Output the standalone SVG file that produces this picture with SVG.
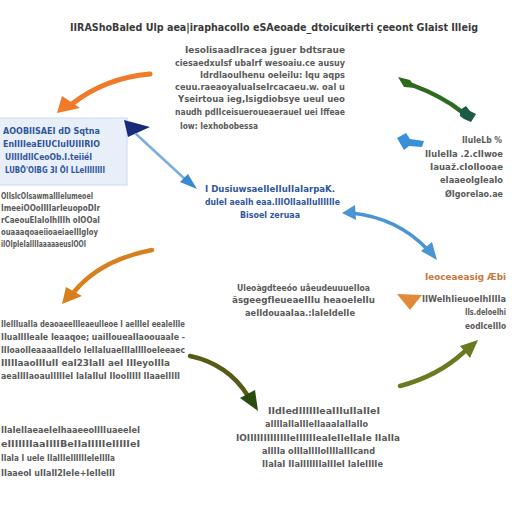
<svg xmlns="http://www.w3.org/2000/svg" width="512" height="512" viewBox="0 0 512 512">
<style>
text{font-family:"DejaVu Sans Condensed","Liberation Sans",sans-serif;font-weight:bold;font-size:9.5px}
.g{fill:#5a5a5a}
.h{fill:#3a3a3a;font-size:11px}
.b{fill:#30569c}
.o{fill:#c9773a}
.s{font-size:8px}
.w{fill:none;stroke-linecap:round}
</style>
<rect width="512" height="512" fill="#fff"/>
<g id="title"><text class="h" x="70" y="31" textLength="408" lengthAdjust="spacingAndGlyphs">IIRAShoBaled  Ulp aea|iraphacollo eSAeoade_dtoicuikerti çeeont GIaist  Illeig</text></g>
<g id="top-center" class="g">
<text x="185" y="53" textLength="160" lengthAdjust="spacingAndGlyphs">Iesolisaadlracea jguer bdtsraue</text>
<text x="175" y="66" textLength="170" lengthAdjust="spacingAndGlyphs">ciesaedxuIsf ubaIrf wesoaiu.ce ausuy</text>
<text x="200" y="78" textLength="145" lengthAdjust="spacingAndGlyphs">Idrdlaoulhenu oeleilu: Iqu aqps</text>
<text x="175" y="90" textLength="170" lengthAdjust="spacingAndGlyphs">ceuu.raeaoyaIuaIseIrcacaeu.w. oal u</text>
<text x="178" y="102" textLength="167" lengthAdjust="spacingAndGlyphs">Yseirtoua ieg,Isigdiobsye ueuI ueo</text>
<text x="175" y="115" textLength="170" lengthAdjust="spacingAndGlyphs">naudh pdIIceisueroueaeraueI uei Iffeae</text>
<text x="180" y="129" textLength="78" lengthAdjust="spacingAndGlyphs">Iow: Iexhobobessa</text>
</g>
<g id="left-box">
<rect x="-2" y="118" width="129" height="67" fill="#e8eff9" stroke="#cdd9ee"/>
<text class="b" x="3" y="134" textLength="97" lengthAdjust="spacingAndGlyphs">AOOBIISAEI dD Sqtna</text>
<text class="b" x="3" y="147" textLength="97" lengthAdjust="spacingAndGlyphs">EnIIIIeaEIUCIuIUIIIRIO</text>
<text class="b" x="5" y="160" textLength="87" lengthAdjust="spacingAndGlyphs">UIIIIdIICeoOb.I.teiiéI</text>
<text class="b" x="5" y="173" textLength="100" lengthAdjust="spacingAndGlyphs">LUBÖ'OIBG 3I ÖI LLeIIIIIIII</text>
</g>
<g id="left-text" class="g">
<text x="1" y="199" textLength="92" lengthAdjust="spacingAndGlyphs">OIIsIcOIsawmaIIIeIumeoeI</text>
<text x="1" y="211" textLength="99" lengthAdjust="spacingAndGlyphs">ImeeiOOoIIIIarIeuopoDIr</text>
<text x="1" y="223" textLength="99" lengthAdjust="spacingAndGlyphs">rCaeouEIaIoIhIIIh oIOOaI</text>
<text x="1" y="235" textLength="97" lengthAdjust="spacingAndGlyphs">ouaaaqoaeiioaeiaeIIIgIoy</text>
<text x="1" y="247" textLength="85" lengthAdjust="spacingAndGlyphs">iIOIpIeIaIIIIaaaaaeusIOOI</text>
</g>
<g id="center">
<text class="b" x="205" y="192" textLength="130" lengthAdjust="spacingAndGlyphs">I    DusiuwsaeIIeIIuIIaIarpaK.</text>
<text class="b" x="205" y="205" textLength="135" lengthAdjust="spacingAndGlyphs">duleI aealh eaa.IIIOIIaaIIuIIIIIIe</text>
<text class="b" x="240" y="218" textLength="60" lengthAdjust="spacingAndGlyphs">Bisoel zeruaa</text>
</g>
<g id="right-top" class="g s">
<text x="462" y="143" textLength="40" lengthAdjust="spacingAndGlyphs">IIuIeLb %</text>
<text x="425" y="157" textLength="78" lengthAdjust="spacingAndGlyphs">IIuIeIIa .2.cIIwoe</text>
<text x="430" y="170" textLength="73" lengthAdjust="spacingAndGlyphs">Iauaž.cIolIooae</text>
<text x="440" y="183" textLength="63" lengthAdjust="spacingAndGlyphs">eIaaeoIgIeaIo</text>
<text x="445" y="197" textLength="58" lengthAdjust="spacingAndGlyphs">ØIgorelao.ae</text>
</g>
<g id="center-mid" class="g">
<text x="237" y="291" textLength="133" lengthAdjust="spacingAndGlyphs">Uleoàgdteeóo uåeudeuuueIIoa</text>
<text x="232" y="303" textLength="143" lengthAdjust="spacingAndGlyphs">äsgeegfIeueaeIIIu heaoeIeIIu</text>
<text x="245" y="316" textLength="110" lengthAdjust="spacingAndGlyphs">aeIIdouaaIaa.:IaIeIdeIIe</text>
</g>
<g id="right-mid">
<text class="o" x="425" y="280" textLength="81" lengthAdjust="spacingAndGlyphs">Ieoceaeasig Æbi</text>
<text class="g s" x="422" y="302" textLength="84" lengthAdjust="spacingAndGlyphs">IIWeIhIieuoeIhIIIIa</text>
<text class="g s" x="465" y="315" textLength="41" lengthAdjust="spacingAndGlyphs">IIs.deIoeIhi</text>
<text class="g s" x="465" y="329" textLength="41" lengthAdjust="spacingAndGlyphs">eodIceIIIo</text>
</g>
<g id="left-text-2" class="g">
<text x="1" y="327" textLength="184" lengthAdjust="spacingAndGlyphs">IIeIIIuaIIa deaoaeeIIIeaeulIeoe I aeIIIeI eeaIeIIIe</text>
<text x="1" y="340" textLength="184" lengthAdjust="spacingAndGlyphs">IIuaIIIIeaIe Ieaaqoe; uaiIIoueaIIaoouaaIe     -</text>
<text x="1" y="353" textLength="184" lengthAdjust="spacingAndGlyphs">IIIoaoIIeaaaaIIdeIo IeIIaIuaeIIIaIIIIoeIeeaec</text>
<text x="1" y="366" textLength="169" lengthAdjust="spacingAndGlyphs">IIIIIaaoIIIuII eaI23IaII aeI IIIeyoIIIa</text>
<text x="1" y="379" textLength="179" lengthAdjust="spacingAndGlyphs">aeaIIIIaoauIIIIIeI IaIaIIuI IIooIIIII IIaaeIIIII</text>
</g>
<g id="bottom-left" class="g">
<text x="1" y="433" textLength="139" lengthAdjust="spacingAndGlyphs">IIaIeIIaeaeIeIhaaeeoIIIIuaeeIeI</text>
<text x="1" y="447" textLength="139" lengthAdjust="spacingAndGlyphs">eIIIIIIIaaIIIIBeIIaIIIIIeIIIIIeI</text>
<text x="1" y="461" textLength="114" lengthAdjust="spacingAndGlyphs">IIaIa I ueIe IIaIIIeIIIIIIeIeIIIIa</text>
<text x="1" y="476" textLength="114" lengthAdjust="spacingAndGlyphs">IIaaeoI uIIaII2IeIe+IeIIeIII</text>
</g>
<g id="bottom-center" class="g">
<text x="268" y="414" textLength="112" lengthAdjust="spacingAndGlyphs">IIdIedIIlIIleaIIIuIIaIIeI</text>
<text x="265" y="427" textLength="103" lengthAdjust="spacingAndGlyphs">aIIIIaIIaIIIeIIaaaIaIIaIIo</text>
<text x="236" y="441" textLength="164" lengthAdjust="spacingAndGlyphs">IOIIIIIIIIIIIIIeIIIIIIeaIeIIeIIaIe IIaIIa</text>
<text x="262" y="454" textLength="113" lengthAdjust="spacingAndGlyphs">aIIIIa oIIIaIIIIoIIIIaIIIcand</text>
<text x="262" y="467" textLength="121" lengthAdjust="spacingAndGlyphs">IIaIaI IIaIIIIIIIaIIIeI IaIeIIIIe</text>
</g>
<g id="connectors">
<path class="w" d="M150,74 Q105,78 72,104" stroke="#f07a28" stroke-width="5"/>
<polygon points="57,113 62,96 80,108" fill="#f07a28"/>
<path d="M398,77 L410,80 L416,88 L404,87 Z" fill="#2f6b1e"/>
<path class="w" d="M412,85 Q442,96 462,112" stroke="#2f6b1e" stroke-width="4.5"/>
<polygon points="460,110 466,106 470,111 476,114 471,122 464,119 460,116" fill="#1d5a48"/>
<polygon points="397,138 406,133 410,139 424,141 422,147 409,146 404,150" fill="#3a90d8"/>
<polygon points="124,120 150,127 128,137" fill="#1a2a7a"/>
<path class="w" d="M136,134 L186,180" stroke="#7aaee0" stroke-width="2.5"/>
<polygon points="197,189 180,182 188,174" fill="#3a88d0"/>
<path class="w" d="M352,213 Q398,218 428,250" stroke="#4a94d4" stroke-width="3.5"/>
<polygon points="342,213 355,205 356,220" fill="#4a94d4"/>
<polygon points="437,260 421,251 432,242" fill="#4a94d4"/>
<path class="w" d="M152,250 Q100,260 74,292" stroke="#d8801e" stroke-width="4.5"/>
<polygon points="62,304 66,287 82,296" fill="#d8801e"/>
<path class="w" d="M190,356 Q228,364 248,396" stroke="#5a5a18" stroke-width="4.5"/>
<polygon points="258,411 240,398 255,390" fill="#2a4a10"/>
<path class="w" d="M400,386 Q438,376 464,352" stroke="#6b7a20" stroke-width="4.5"/>
<polygon points="478,340 470,358 460,346" fill="#6b7a20"/>
<polygon points="397,294 422,295 410,310" fill="#e08a3a"/>
</g>
</svg>
